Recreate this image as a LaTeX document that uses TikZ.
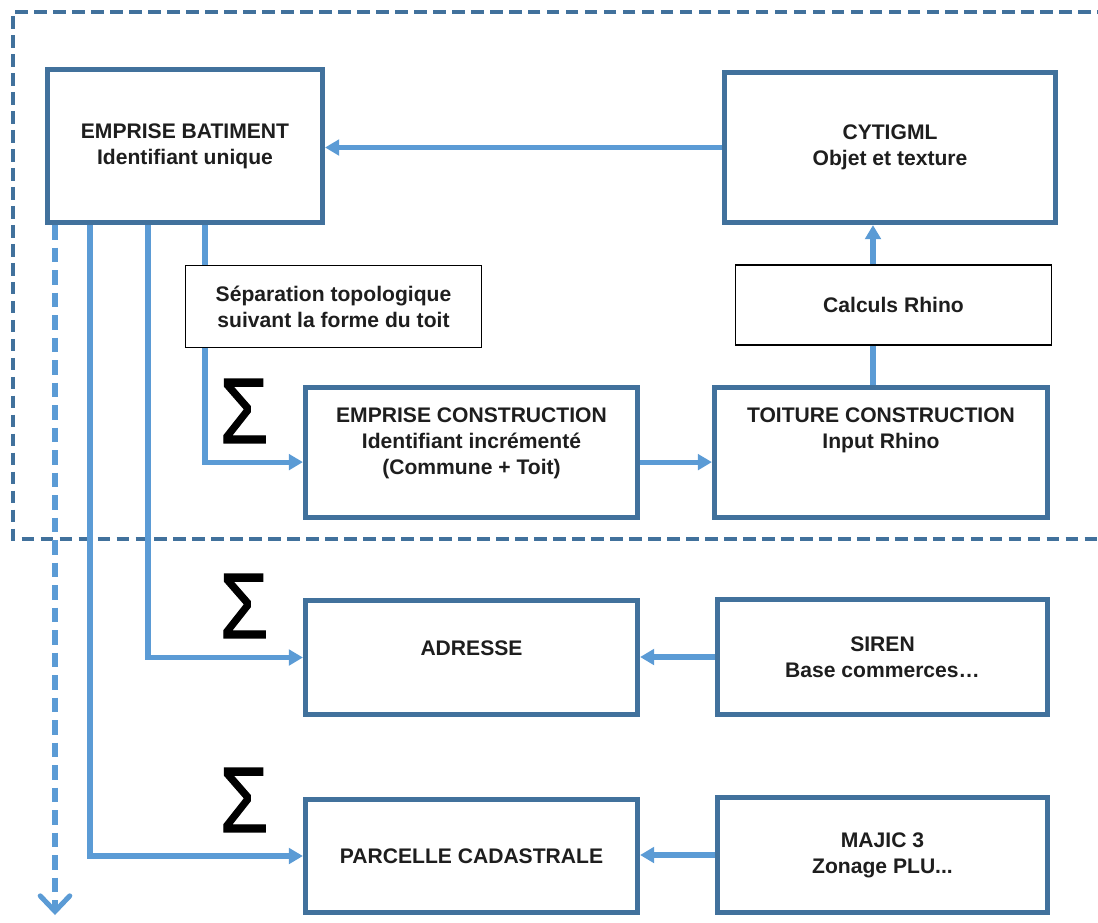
\documentclass[tikz,border=0pt]{standalone}
\usepackage{fontspec}
\setmainfont{Liberation Sans}
\newfontfamily\sigmafont[FakeBold=1.3]{Liberation Sans}
\usetikzlibrary{arrows.meta}
\definecolor{boxblue}{HTML}{41719C}
\definecolor{lineblue}{HTML}{5B9BD5}
\definecolor{ink}{HTML}{1E1E1E}
\begin{document}
\begin{tikzpicture}[x=0.025cm,y=-0.025cm,
  bigbox/.style={draw=boxblue,line width=3.6pt,fill=white,minimum width=8.3cm,minimum height=2.85cm},
  thinbox/.style={draw=black,line width=1pt,fill=white,minimum width=7.9cm,minimum height=2cm,align=center,text=ink,font=\bfseries\fontsize{15}{18.4}\selectfont},
  lbl/.style={align=center,text=ink,font=\bfseries\fontsize{15}{18.4}\selectfont},
  sigma/.style={text=black,font=\sigmafont\fontsize{66}{66}\selectfont,inner sep=0pt},
  ln/.style={draw=lineblue,line width=3.6pt},
  arr/.style={ln,-{Triangle[length=10pt,width=11pt]}},
  dasharr/.style={ln,dash pattern=on 10.5pt off 5.5pt,-{Straight Barb[length=11pt,width=21pt,line cap=round]}}]
 \useasboundingbox (0,0) rectangle (1098,922);
 \draw[boxblue,line width=2.8pt,dash pattern=on 9pt off 4.5pt] (1110,12) -- (13,12) -- (13,539) -- (1110,539);
 \node[bigbox,lbl,minimum width=6.875cm,minimum height=3.825cm] (bat) at (185,146) {EMPRISE BATIMENT\\Identifiant unique};
 \node[bigbox,lbl,minimum width=8.275cm,minimum height=3.75cm] (cyt) at (890,147.5) {CYTIGML\\Objet et texture};
 \node[thinbox] (calc) at (893.5,305) {Calculs Rhino};
 \node[thinbox,minimum width=7.4cm,minimum height=2.05cm] (sep) at (333.5,306.5) {Séparation topologique\\suivant la forme du toit};
 \node[bigbox,minimum height=3.25cm] (econ) at (471.5,452.5) {};
 \node[lbl] (econtxt) at (471.5,443) {EMPRISE CONSTRUCTION\\Identifiant incrémenté\\(Commune + Toit)};
 \node[bigbox,minimum width=8.325cm,minimum height=3.25cm] (toit) at (881,452.5) {};
 \node[lbl] (toittxt) at (881,430) {TOITURE CONSTRUCTION\\Input Rhino};
 \node[bigbox] (adr) at (471.5,657.5) {};
 \node[lbl] (adrtxt) at (471.5,648) {ADRESSE};
 \node[bigbox,lbl,minimum width=8.25cm,minimum height=2.875cm] (sir) at (882.5,657) {SIREN\\Base commerces…};
 \node[bigbox,lbl,minimum height=2.825cm] (par) at (471.5,856) {PARCELLE CADASTRALE};
 \node[bigbox,lbl,minimum width=8.25cm,minimum height=2.875cm] (maj) at (882.5,855) {MAJIC 3\\Zonage PLU...};
 \node[sigma] (s1) at (244,411) {\scalebox{0.85}[1]{Σ}};
 \node[sigma] (s2) at (244,606) {\scalebox{0.85}[1]{Σ}};
 \node[sigma] (s3) at (244,800) {\scalebox{0.85}[1]{Σ}};
 \coordinate (xa) at (55,0);
 \coordinate (xb) at (90,0);
 \coordinate (xc) at (148,0);
 \coordinate (xd) at (205,0);
 \coordinate (xe) at (873,0);
 \coordinate (down) at (55,915);
 \draw[arr] (cyt.west) -- (cyt.west -| bat.east);
 \draw[arr] (calc.north -| xe) -- (cyt.south -| xe);
 \draw[ln] (toit.north -| xe) -- (calc.south -| xe);
 \draw[arr] ([yshift=-0.24cm]econ.east) -- ([yshift=-0.24cm]econ.east -| toit.west);
 \draw[arr] (sir.west) -- (sir.west -| adr.east);
 \draw[arr] (maj.west) -- (maj.west -| par.east);
 \draw[ln] (bat.south -| xd) -- (sep.north -| xd);
 \draw[arr] (sep.south -| xd) |- ([yshift=-0.24cm]econ.west);
 \draw[arr] (bat.south -| xc) |- (adr.west);
 \draw[arr] (bat.south -| xb) |- (par.west);
 \draw[dasharr] (bat.south -| xa) -- (down);
\end{tikzpicture}
\end{document}
